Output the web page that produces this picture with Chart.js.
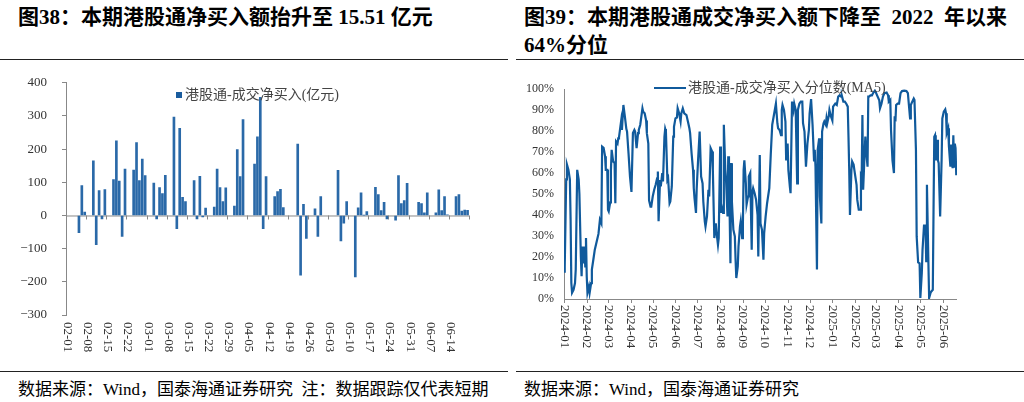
<!DOCTYPE html>
<html>
<head>
<meta charset="utf-8">
<script src="https://cdn.jsdelivr.net/npm/chart.js@4.4.1/dist/chart.umd.min.js"></script>
<style>
  body { margin: 0; width: 1024px; height: 402px; background: #fff; position: relative; overflow: hidden; }
  .abs { position: absolute; white-space: nowrap; }
  .title { font: bold 21px 'Liberation Serif', 'Noto Sans CJK SC'; color: #000; line-height: 28px; }
  .foot { font: 17px 'Liberation Serif', 'Noto Sans CJK SC'; color: #000; }
  .rule { position: absolute; height: 0; border-top: 1.5px solid #222; }
  .legend { font: 14px 'Liberation Serif', 'Noto Sans CJK SC'; color: #444; }
  canvas { position: absolute; top: 60px; }
</style>
</head>
<body>
<div class="abs title" style="left:18px;top:3px;">图38：本期港股通净买入额抬升至 15.51 亿元</div>
<div class="abs title" style="left:524px;top:3px;">图39：本期港股通成交净买入额下降至&nbsp; 2022 &nbsp;年以来<br>64%分位</div>
<div class="rule" style="left:0;top:59px;width:508px;"></div>
<div class="rule" style="left:516px;top:59px;width:508px;"></div>

<canvas id="c1" width="512" height="310" style="left:0;"></canvas>
<canvas id="c2" width="512" height="310" style="left:512px;"></canvas>

<div class="abs legend" style="left:176px;top:83px;"><span style="display:inline-block;width:6px;height:6px;background:#1a5c9e;vertical-align:middle;margin-right:3px;position:relative;top:-1px;"></span>港股通-成交净买入(亿元)</div>
<div class="abs legend" style="left:654px;top:76px;"><span style="display:inline-block;width:32px;height:0;border-top:2px solid #105a9c;vertical-align:middle;margin-right:2px;position:relative;top:-1px;"></span>港股通-成交净买入分位数(MA5)</div>

<div class="rule" style="left:0;top:371px;width:508px;"></div>
<div class="rule" style="left:516px;top:371px;width:508px;"></div>
<div class="abs foot" style="left:18px;top:375px;">数据来源：Wind，国泰海通证券研究&nbsp;&nbsp;注：数据跟踪仅代表短期</div>
<div class="abs foot" style="left:524px;top:375px;">数据来源：Wind，国泰海通证券研究</div>

<script>
// 图38 港股通成交净买入 (亿元), 2025 trading days
const barDates = ['02-05','02-06','02-07','02-10','02-11','02-12','02-13','02-14','02-17','02-18','02-19','02-20','02-21',
  '02-24','02-25','02-26','02-27','02-28','03-03','03-04','03-05','03-06','03-07','03-10','03-11','03-12','03-13','03-14',
  '03-17','03-18','03-19','03-20','03-21','03-24','03-25','03-26','03-27','03-28','03-31','04-01','04-02','04-03',
  '04-07','04-08','04-09','04-10','04-11','04-14','04-15','04-16','04-17','04-22','04-23','04-24','04-25',
  '04-28','04-29','04-30','05-06','05-07','05-08','05-09','05-12','05-13','05-14','05-15','05-16',
  '05-19','05-20','05-21','05-22','05-23','05-26','05-27','05-28','05-29','05-30','06-03','06-04','06-05','06-06',
  '06-09','06-10','06-11','06-12','06-13','06-16','06-17','06-18','06-19','06-20'];
const barValues = [-52,90,10,165,-88,75,-10,78,108,225,104,-63,140,
  137,220,105,170,120,98,-10,84,66,121,297,-40,263,55,42,
  105,-10,118,-4,22,25,140,84,42,83,28,199,117,289,
  155,237,356,-40,117,57,72,79,24,215,-180,34,-69,
  20,-63,57,136,-77,-23,42,-185,23,68,1,12,
  85,63,15,40,-10,-14,120,36,45,97,40,36,8,68,
  8,77,15,57,2,57,63,13,16,15.51];
const weekLabels = ['02-01','02-08','02-15','02-22','03-01','03-08','03-15','03-22','03-29','04-05',
  '04-12','04-19','04-26','05-03','05-10','05-17','05-24','05-31','06-07','06-14'];

// 图39 港股通成交净买入分位数(MA5), days since 2024-01-01, percent
const lineDays = [0,1,3,4,6,8,9,10,11,13,15,16,18,20,21,23,24,25,26,28,29,30,31,32,34,35,37,38,40,42,45,47,49,51,52,54,56,57,59,60,
  61,63,64,65,67,69,70,71,73,74,75,78,79,81,83,85,86,88,90,92,94,96,97,99,101,102,104,107,108,110,112,113,115,116,118,119,121,123,125,127,
  128,129,131,132,134,135,137,138,139,141,142,144,145,147,149,150,152,154,155,157,159,160,162,164,165,167,169,171,172,174,176,177,178,180,181,183,185,187,189,190,
  192,193,195,197,198,200,202,203,205,207,208,210,211,213,214,215,217,218,220,221,223,224,225,227,228,229,231,233,234,235,237,238,240,241,243,244,245,246,248,249,
  251,252,254,256,257,258,260,262,264,265,267,268,270,272,273,275,277,280,282,284,289,291,292,294,296,297,298,300,302,303,305,306,308,309,311,313,314,316,318,319,
  321,323,325,326,328,330,332,334,335,337,339,341,342,343,345,346,348,349,351,352,354,355,357,358,359,361,362,364,366,367,370,372,374,376,378,379,381,383,385,387,
  388,389,390,392,393,395,396,399,400,402,404,405,406,407,408,410,411,412,414,415,416,418,420,422,424,425,427,430,431,433,435,437,440,442,443,445,446,448,450,451,
  452,453,455,457,459,461,464,467,469,471,472,473,475,477,478,480,481,483,485,486,488,489,491,493,494,495,497,498,500,501,503,504,505,506,507,509,510,511,513,515,
  516,518,520,521,522,524,525,527,528,530,531,532,533,534,535,536];
const lineValues = [13,15.5,57,64,61.5,57,38,7.6,3,4.4,7.6,14,61.5,57,50,20,10.8,25,17,25,15.5,29,10.8,3,6,3,7.6,14,18.7,23.5,28,31,37.7,36,72.6,72,68,61.5,61.5,42.5,
  41.7,46,61.5,71,65.5,64.7,45.6,75,74,76.5,77,85,80.5,92.4,87,81,79.7,69.4,58.3,51,79,80.5,79.7,71.8,79,80.5,83,90.8,89.2,88.4,85,79,74,47,44,44,48.8,52,54.4,57.5,
  60.7,37,56.7,53.6,60,56,77.3,81,79.7,56.7,57.5,45.6,46.4,53.6,77.3,82,86,86.4,90.8,88.4,84.5,88.4,90.8,88.4,88.4,87.6,84.5,81.3,79,69.4,61.5,52.8,48,41,52.8,67,79.7,58.3,55,46.4,
  37,34.5,39.3,52,48.8,71.8,70.2,61.5,29,36,32,25.8,29,72.6,41,44,41,83,61.5,56.7,39.3,68,61.5,17,64.7,46.4,33,29.8,18.7,10,15.5,25,34.5,37,29,36,61.5,66,55,45,
  48.8,58.3,60,23.5,51,52.8,50.4,47.2,40,20.3,68.6,36,33,18.7,31.4,39.3,45.6,52.8,69,83,93,83.7,81.3,80.5,78,90,92.4,90,84.5,66,74,61.5,53.6,50.4,94,90,93,90,55,90,
  93,94,94,83.7,79.7,63,74,80.5,88.4,95.2,83,66,71,63,14,71,76.5,48.8,36,79.7,83.7,84.5,83,86,83.7,87,90,87,85,91.6,93,92.4,96.4,97,96.4,96.7,94,94,93,91.6,
  77.3,61.5,40,61.5,65.5,64,61.5,54.4,47.2,42.5,42.5,59,58.3,87.6,52,69.4,77.3,71,63,96.4,96.4,97,97,98.3,99.2,98.7,97,94.6,90.8,93,96.4,98,98.3,97,94,94.8,80.5,66,60,87,
  84.5,92.4,93,93,98,99,99.2,99,98,90,86,92.4,94,95.5,94.8,71,29.8,17.4,17,0.5,12.4,23.5,35,35,18,54.4,17,0.5,3,3.6,4.4,42.5,77.3,78,66,75.8,66,64.7,39.3,66,
  86,89.2,90.3,88.4,79,81.3,72.6,63,73.5,62.3,78,63,74,71.8,59,64];
const monthLabels = ['2024-01','2024-02','2024-03','2024-04','2024-05','2024-06','2024-07','2024-08','2024-09',
  '2024-10','2024-11','2024-12','2025-01','2025-02','2025-03','2025-04','2025-05','2025-06'];

const DAY = 86400000;
const barDay = s => (Date.UTC(2025, +s.slice(0, 2) - 1, +s.slice(3)) - Date.UTC(2025, 1, 1)) / DAY;
const monthDay = s => (Date.UTC(+s.slice(0, 4), +s.slice(5) - 1, 1) - Date.UTC(2024, 0, 1)) / DAY;

const AXIS = '#888';
const SERIF = 'Liberation Serif';

// draws an x axis line with small ticks and labels rotated to read downwards
function downAxis(opts) {
  return {
    id: 'downAxis',
    beforeDatasetsDraw(chart) {
      const { ctx, chartArea, scales: { x, y } } = chart;
      const yLine = opts.atZero ? y.getPixelForValue(0) : chartArea.bottom;
      ctx.save();
      ctx.strokeStyle = AXIS;
      ctx.lineWidth = 1;
      ctx.beginPath();
      ctx.moveTo(chartArea.left, yLine + 0.5);
      ctx.lineTo(chartArea.right, yLine + 0.5);
      opts.ticks.forEach(v => {
        const px = Math.round(x.getPixelForValue(v)) + 0.5;
        ctx.moveTo(px, yLine);
        ctx.lineTo(px, yLine + 4);
      });
      ctx.stroke();
      ctx.restore();
    },
    afterDraw(chart) {
      const { ctx, chartArea, scales: { x } } = chart;
      ctx.save();
      ctx.fillStyle = '#333';
      ctx.font = opts.fontSize + 'px ' + SERIF;
      ctx.textAlign = 'left';
      ctx.textBaseline = 'middle';
      opts.labels.forEach((lab, i) => {
        ctx.save();
        ctx.translate(x.getPixelForValue(opts.values[i]), chartArea.bottom + opts.gap);
        ctx.rotate(Math.PI / 2);
        ctx.fillText(lab, 0, 0);
        ctx.restore();
      });
      ctx.restore();
    }
  };
}

const weekDays = weekLabels.map(barDay);
const weekTicks = weekDays.slice(1).map(d => d - 0.5).concat([139.5]);

new Chart(document.getElementById('c1'), {
  type: 'bar',
  data: {
    datasets: [{
      data: barDates.map((d, i) => ({ x: barDay(d), y: barValues[i] })),
      backgroundColor: '#2a69a8',
      borderWidth: 0,
      barThickness: 2
    }]
  },
  options: {
    responsive: false,
    animation: false,
    layout: { padding: { top: 19, right: 43, bottom: 55, left: 0 } },
    plugins: { legend: { display: false }, tooltip: { enabled: false } },
    scales: {
      x: { type: 'linear', min: -0.5, max: 139.5, offset: false, display: false },
      y: {
        min: -300, max: 400,
        ticks: {
          stepSize: 100, padding: 15, color: '#333',
          font: { family: SERIF, size: 13 },
          callback: v => v < 0 ? '\u2212' + (-v) : String(v)
        },
        grid: { drawOnChartArea: false, drawTicks: true, tickLength: 4, color: AXIS },
        border: { color: AXIS },
        afterFit(s) { s.width = 66; }
      }
    }
  },
  plugins: [downAxis({ atZero: true, ticks: weekTicks, labels: weekLabels, values: weekDays, fontSize: 13, gap: 7 })]
});

const monthDays = monthLabels.map(monthDay);

new Chart(document.getElementById('c2'), {
  type: 'line',
  data: {
    datasets: [{
      data: lineDays.map((d, i) => ({ x: d, y: lineValues[i] })),
      borderColor: '#105a9c',
      borderWidth: 2.2,
      pointRadius: 0,
      tension: 0,
      fill: false
    }]
  },
  options: {
    responsive: false,
    animation: false,
    layout: { padding: { top: 29, right: 67, bottom: 71, left: 0 } },
    plugins: { legend: { display: false }, tooltip: { enabled: false } },
    scales: {
      x: { type: 'linear', min: 0, max: 536, display: false },
      y: {
        min: 0, max: 100,
        ticks: {
          stepSize: 10, padding: 10, color: '#333',
          font: { family: SERIF, size: 12 },
          callback: v => v + '%'
        },
        grid: { drawOnChartArea: false, drawTicks: false },
        border: { color: AXIS },
        afterFit(s) { s.width = 52; }
      }
    }
  },
  plugins: [downAxis({ atZero: false, ticks: monthDays, labels: monthLabels, values: monthDays, fontSize: 13, gap: 6 })]
});
</script>
</body>
</html>
